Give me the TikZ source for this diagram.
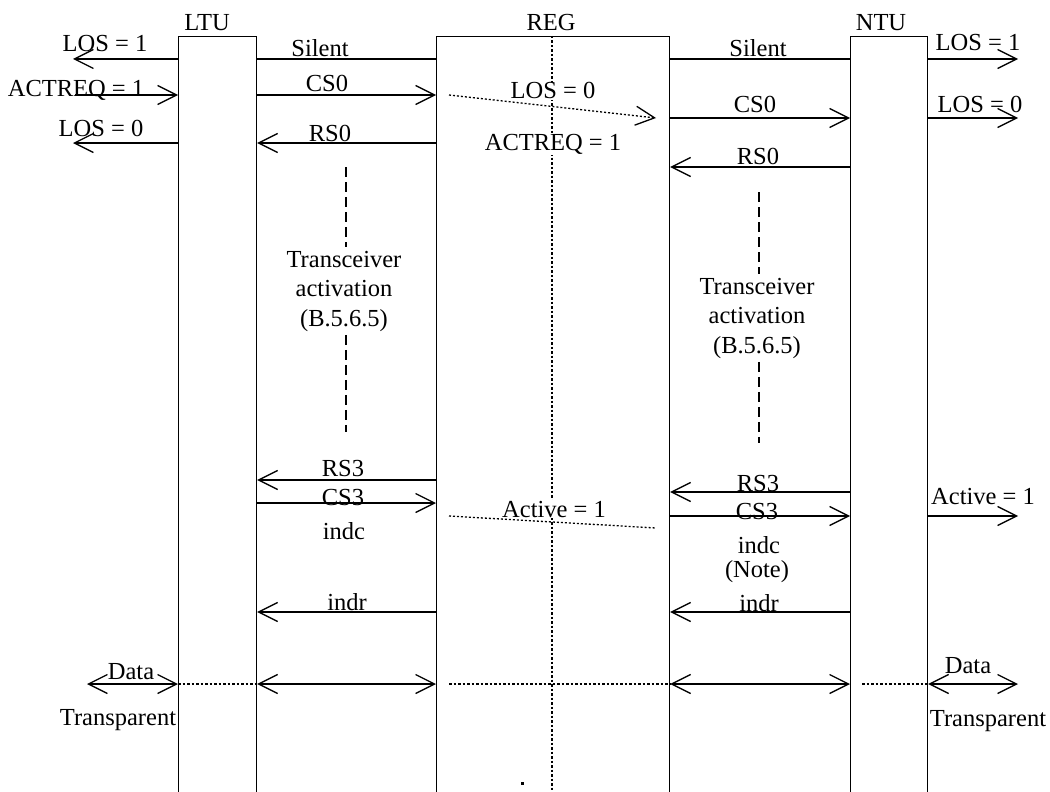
\documentclass[tikz,border=0pt]{standalone}
\usepackage{fontspec}
\setmainfont{Liberation Serif}
\usetikzlibrary{arrows.meta}

\tikzset{
  every node/.style={font=\fontsize{24.5}{29.5}\selectfont},
  unit/.style={draw, line width=1.2pt, minimum width=#1, minimum height=780pt, inner sep=0pt, anchor=north west},
  sig/.style={line width=2.2pt, ->},
  dsig/.style={line width=2.2pt, <->},
  dots/.style={line width=1.3pt, dash pattern=on 2pt off 2pt},
  thickdots/.style={line width=2pt, dash pattern=on 2.5pt off 2pt},
  gap/.style={line width=2pt, dash pattern=on 10pt off 5pt},
  lbl/.style={anchor=base, inner sep=0pt},
  mask/.style={anchor=base, fill=white, inner sep=1pt},
}

\begin{document}
\begin{tikzpicture}[x=1pt, y=-1pt, >={Straight Barb[length=19pt,width=19pt,line width=1.3pt 0 1]}]
    \useasboundingbox (0,0) rectangle (1050,792);
    % the three units
    \node[unit=78pt] (ltu) at (178,36) {};
    \node[unit=233pt] (reg) at (436,36) {};
    \node[unit=77pt] (ntu) at (850,36) {};
    \node[lbl] (ltut) at (207,31) {LTU};
    \node[lbl] (regt) at (551,31) {REG};
    \node[lbl] (ntut) at (881,31) {NTU};
    \coordinate (regb) at (552,795);
    \draw[thickdots] (reg.north -| regb) -- (regb);

    % left side
    \coordinate (l1) at (73,59);
    \coordinate (l2) at (75,95);
    \coordinate (l3) at (73,143);
    \coordinate (l4) at (87,684);
    \draw[sig] (ltu.west |- l1) -- (l1);
    \node[lbl] (los1l) at (105,52) {LOS = 1};
    \draw[sig] (l2) -- (ltu.west |- l2);
    \node[lbl] (actl) at (76,96) {ACTREQ = 1};
    \draw[sig] (ltu.west |- l3) -- (l3);
    \node[lbl] (los0l) at (101,136) {LOS = 0};
    \draw[dsig] (l4) -- (ltu.west |- l4);
    \node[lbl] (datal) at (131,679) {Data};
    \node[lbl] (trl) at (118,725) {Transparent};
    \draw[thickdots] (ltu.west |- l4) -- (ltu.east |- l4);

    % LTU - REG
    \draw[line width=2.2pt] (ltu.east |- 0,59) -- (reg.west |- 0,59);
    \node[lbl] (sil1) at (320,57) {Silent};
    \draw[sig] (ltu.east |- 0,95) -- (reg.west |- 0,95);
    \node[lbl] (cs0a) at (327,92) {CS0};
    \draw[sig] (reg.west |- 0,143) -- (ltu.east |- 0,143);
    \node[lbl] (rs0a) at (330,141) {RS0};
    \node[align=center] (tra) at (344,291) {Transceiver\\activation\\(B.5.6.5)};
    \coordinate (ta1) at (346,167);
    \coordinate (ta2) at (346,432);
    \draw[gap] (ta1) -- (tra.north -| ta1);
    \draw[gap] (tra.south -| ta2) -- (ta2);
    \draw[sig] (reg.west |- 0,480) -- (ltu.east |- 0,480);
    \node[lbl] (rs3a) at (343,476) {RS3};
    \draw[sig] (ltu.east |- 0,503) -- (reg.west |- 0,503);
    \node[lbl] (cs3a) at (343,505) {CS3};
    \node[lbl] (indca) at (344,539) {indc};
    \draw[sig] (reg.west |- 0,612) -- (ltu.east |- 0,612);
    \node[lbl] (indra) at (347,610) {indr};
    \draw[dsig] (ltu.east |- l4) -- (reg.west |- l4);

    % inside REG
    \coordinate (d1) at (449,95);
    \coordinate (d2) at (656,118);
    \draw[dots, ->] (d1) -- (d2);
    \node[mask] (los0r) at (553,99) {LOS = 0};
    \node[mask] (actr) at (553,150) {ACTREQ = 1};
    \coordinate (d3) at (449,516);
    \coordinate (d4) at (656,528);
    \draw[dots] (d3) -- (d4);
    \node[mask] (act1r) at (554,517) {Active = 1};
    \coordinate (d5) at (449,684);
    \draw[thickdots] (d5) -- (reg.east |- d5);
    \fill (521,782) rectangle (524,785);

    % REG - NTU
    \draw[line width=2.2pt] (reg.east |- 0,59) -- (ntu.west |- 0,59);
    \node[lbl] (sil2) at (758,57) {Silent};
    \draw[sig] (reg.east |- 0,118) -- (ntu.west |- 0,118);
    \node[lbl] (cs0b) at (755,112) {CS0};
    \draw[sig] (ntu.west |- 0,167) -- (reg.east |- 0,167);
    \node[lbl] (rs0b) at (758,164) {RS0};
    \node[align=center] (trb) at (757,318) {Transceiver\\activation\\(B.5.6.5)};
    \coordinate (tb1) at (759,192);
    \coordinate (tb2) at (759,443);
    \draw[gap] (tb1) -- (trb.north -| tb1);
    \draw[gap] (trb.south -| tb2) -- (tb2);
    \draw[sig] (ntu.west |- 0,492) -- (reg.east |- 0,492);
    \node[lbl] (rs3b) at (758,491) {RS3};
    \draw[sig] (reg.east |- 0,516) -- (ntu.west |- 0,516);
    \node[lbl] (cs3b) at (757,519) {CS3};
    \node[lbl] (indcb) at (759,553) {indc};
    \node[lbl] (noteb) at (757,577) {(Note)};
    \draw[sig] (ntu.west |- 0,612) -- (reg.east |- 0,612);
    \node[lbl] (indrb) at (759,611) {indr};
    \draw[dsig] (reg.east |- l4) -- (ntu.west |- l4);

    % right side
    \coordinate (r1) at (1018,59);
    \coordinate (r2) at (1018,118);
    \coordinate (r3) at (1018,516);
    \coordinate (r4) at (1018,684);
    \coordinate (d6) at (862,684);
    \draw[thickdots] (d6) -- (ntu.east |- d6);
    \draw[sig] (ntu.east |- r1) -- (r1);
    \node[lbl] (los1r) at (978,51) {LOS = 1};
    \draw[sig] (ntu.east |- r2) -- (r2);
    \node[lbl] (los0rr) at (980,113) {LOS = 0};
    \draw[sig] (ntu.east |- r3) -- (r3);
    \node[lbl] (act1rr) at (983,504) {Active = 1};
    \draw[dsig] (ntu.east |- r4) -- (r4);
    \node[lbl] (datar) at (968,673) {Data};
    \node[lbl] (trr) at (988,726) {Transparent};
\end{tikzpicture}
\end{document}
